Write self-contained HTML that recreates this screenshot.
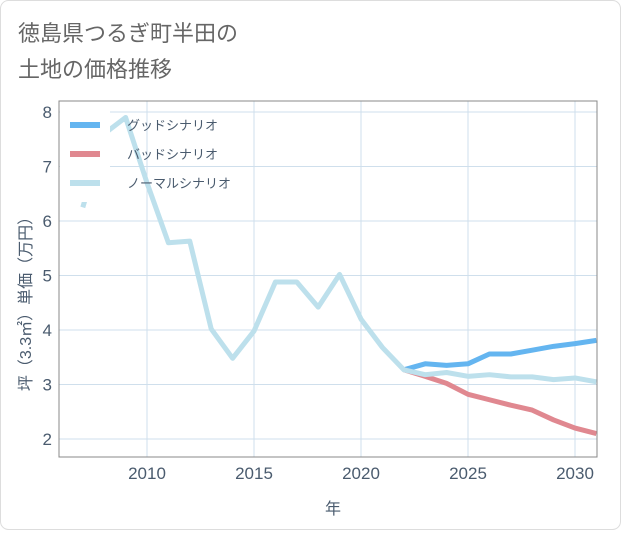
<!DOCTYPE html>
<html><head><meta charset="utf-8"><style>
body{margin:0;background:#fff;font-family:"Liberation Sans","Noto Sans CJK JP",sans-serif;}
#wrap{position:relative;width:621px;height:530px;}
</style></head><body>
<div id="wrap">
<svg id="svg" width="621" height="530" xmlns="http://www.w3.org/2000/svg">
<rect x="0.5" y="0.5" width="620" height="529" rx="8" fill="#fff" stroke="#ddd"/>
<text x="18" y="41" font-size="22" fill="#666">徳島県つるぎ町半田の</text>
<text x="18" y="77" font-size="22" fill="#666">土地の価格推移</text>
<g id="grid"></g>
<g id="series"></g>
<rect x="60" y="102" width="50" height="100" fill="#fff"/>
<g id="legend"></g>
<rect x="59" y="101" width="538" height="356" fill="none" stroke="#888"/>
<g id="axes"></g>
<text x="333" y="514" font-size="16" fill="#4a5b6e" text-anchor="middle">年</text>
<text transform="translate(31,300) rotate(-90)" font-size="16" fill="#4a5b6e" text-anchor="middle">坪（3.3㎡）単価（万円）</text>
</svg></div>
<script>
const years=[2007,2008,2009,2010,2011,2012,2013,2014,2015,2016,2017,2018,2019,2020,2021,2022,2023,2024,2025,2026,2027,2028,2029,2030,2031];
const normal=[6.25,7.6,7.9,6.7,5.6,5.63,4.02,3.48,3.98,4.88,4.88,4.42,5.02,4.2,3.68,3.27,3.18,3.22,3.15,3.18,3.14,3.14,3.09,3.12,3.05];
const futureYears=[2022,2023,2024,2025,2026,2027,2028,2029,2030,2031];
const good=[3.27,3.38,3.35,3.38,3.56,3.56,3.63,3.7,3.75,3.81];
const bad=[3.27,3.15,3.02,2.82,2.72,2.62,2.53,2.35,2.2,2.1];
const xTicks=[2010,2015,2020,2025,2030];
const yTicks=[2,3,4,5,6,7,8];
const NS='http://www.w3.org/2000/svg';
const X=y=>147+(y-2010)*21.4;
const Y=v=>439-(v-2)*54.5;
function mk(tag,attrs,parent){const e=document.createElementNS(NS,tag);for(const k in attrs)e.setAttribute(k,attrs[k]);parent.appendChild(e);return e;}
const grid=document.getElementById('grid'),axes=document.getElementById('axes'),ser=document.getElementById('series'),leg=document.getElementById('legend');
xTicks.forEach(t=>{const l=mk('line',{x1:X(t),x2:X(t),y1:101,y2:457,stroke:'#cfdfec'},grid);


const tx=mk('text',{x:X(t),y:479,'font-size':17,fill:'#4a5b6e','text-anchor':'middle'},axes);tx.textContent=t;

});
yTicks.forEach(t=>{const l=mk('line',{x1:59,x2:597,y1:Y(t),y2:Y(t),stroke:'#cfdfec'},grid);


const tx=mk('text',{x:52,y:Y(t)+6,'font-size':17,fill:'#4a5b6e','text-anchor':'end'},axes);tx.textContent=t;

});
function line(xs,vs,color,name){const p=mk('polyline',{points:xs.map((y,i)=>X(y)+','+Y(vs[i])).join(' '),fill:'none',stroke:color,'stroke-width':5,'stroke-linejoin':'round'},ser);

}
line(futureYears,good,'#64b5f0','good-scenario-line');
line(futureYears,bad,'#e08890','bad-scenario-line');
line(years,normal,'#bde0ec','normal-scenario-line');
[['グッドシナリオ','#64b5f0'],['バッドシナリオ','#e08890'],['ノーマルシナリオ','#bde0ec']].forEach((d,i)=>{const y=125+i*29;
const l=mk('line',{x1:70,x2:100,y1:y,y2:y,stroke:d[1],'stroke-width':6},leg);


const t=mk('text',{x:127,y:y+5,'font-size':13,fill:'#4a5b6e'},leg);t.textContent=d[0];

});
</script>
</body></html>
